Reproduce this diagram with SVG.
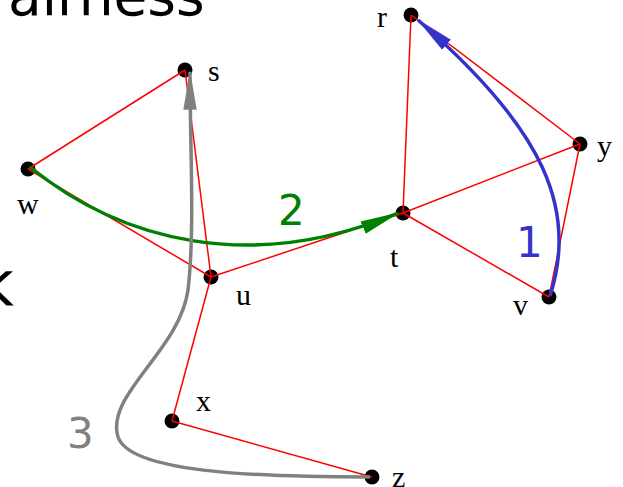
<svg xmlns="http://www.w3.org/2000/svg" width="623" height="487" viewBox="0 0 623 487">
<style>
.e{stroke:#ff0000;stroke-width:1.5;fill:none}
.n{fill:#000}
.lbl{font-family:"Liberation Serif",serif;font-size:30px;fill:#000}
.big{font-family:"DejaVu Sans",sans-serif;fill:#000}
.num{font-family:"DejaVu Sans",sans-serif;font-size:42px}
</style>
<defs>
<marker id="ag" markerUnits="userSpaceOnUse" markerWidth="40" markerHeight="20" viewBox="0 0 36 16" refX="34" refY="8" orient="auto"><path d="M0,2 L36,8 L0,14 Z" fill="#008000"/></marker>
<marker id="ab" markerUnits="userSpaceOnUse" markerWidth="40" markerHeight="20" viewBox="0 0 36 16" refX="34" refY="8" orient="auto"><path d="M0,2 L36,8 L0,14 Z" fill="#3333cc"/></marker>
<marker id="ay" markerUnits="userSpaceOnUse" markerWidth="40" markerHeight="20" viewBox="0 0 36 16" refX="34" refY="8" orient="auto"><path d="M0,2 L36,8 L0,14 Z" fill="#808080"/></marker>
</defs>
<rect width="623" height="487" fill="#fff"/>
<text class="big" x="8" y="15" font-size="55">airness</text>
<text class="big" x="-22" y="305" font-size="62">k</text>
<g id="node-s"><circle class="n" cx="185" cy="70" r="7.5"/><text class="lbl" x="208" y="81">s</text></g>
<g id="node-r"><circle class="n" cx="411" cy="15" r="7.5"/><text class="lbl" x="377" y="27">r</text></g>
<g id="node-y"><circle class="n" cx="580" cy="144" r="7.5"/><text class="lbl" x="597" y="156">y</text></g>
<g id="node-w"><circle class="n" cx="28" cy="169" r="7.5"/><text class="lbl" x="17" y="214">w</text></g>
<g id="node-t"><circle class="n" cx="403" cy="213" r="7.5"/><text class="lbl" x="390" y="267">t</text></g>
<g id="node-u"><circle class="n" cx="211" cy="277" r="7.5"/><text class="lbl" x="236" y="305">u</text></g>
<g id="node-v"><circle class="n" cx="549" cy="297" r="7.5"/><text class="lbl" x="513" y="315">v</text></g>
<g id="node-x"><circle class="n" cx="172" cy="421" r="7.5"/><text class="lbl" x="196" y="411">x</text></g>
<g id="node-z"><circle class="n" cx="372" cy="477" r="7.5"/><text class="lbl" x="392" y="487">z</text></g>
<g id="connectors">
<line class="e" x1="185" y1="70" x2="28" y2="169"/>
<line class="e" x1="185" y1="70" x2="211" y2="277"/>
<line class="e" x1="28" y1="169" x2="211" y2="277"/>
<line class="e" x1="211" y1="277" x2="403" y2="213"/>
<line class="e" x1="211" y1="277" x2="172" y2="421"/>
<line class="e" x1="172" y1="421" x2="372" y2="477"/>
<line class="e" x1="411" y1="15" x2="403" y2="213"/>
<line class="e" x1="411" y1="15" x2="580" y2="144"/>
<line class="e" x1="403" y1="213" x2="580" y2="144"/>
<line class="e" x1="403" y1="213" x2="549" y2="297"/>
<line class="e" x1="580" y1="144" x2="549" y2="297"/>
<path d="M30,167 C 120,240 250,275 398,213" fill="none" stroke="#008000" stroke-width="3.5" marker-end="url(#ag)"/>
<path d="M550,296 C 578,210 545,130 418,20" fill="none" stroke="#3333cc" stroke-width="3.5" marker-end="url(#ab)"/>
<path d="M370,477 C 250,477 130,472 118,437 C 105,395 180,350 188,290 C 195,230 190,150 190,72" fill="none" stroke="#808080" stroke-width="3.5" marker-end="url(#ay)"/>
<text class="num" x="278" y="225" fill="#008000">2</text>
<text class="num" x="516" y="257" fill="#3333cc">1</text>
<text class="num" x="67" y="448" fill="#808080">3</text>
</g>
</svg>
